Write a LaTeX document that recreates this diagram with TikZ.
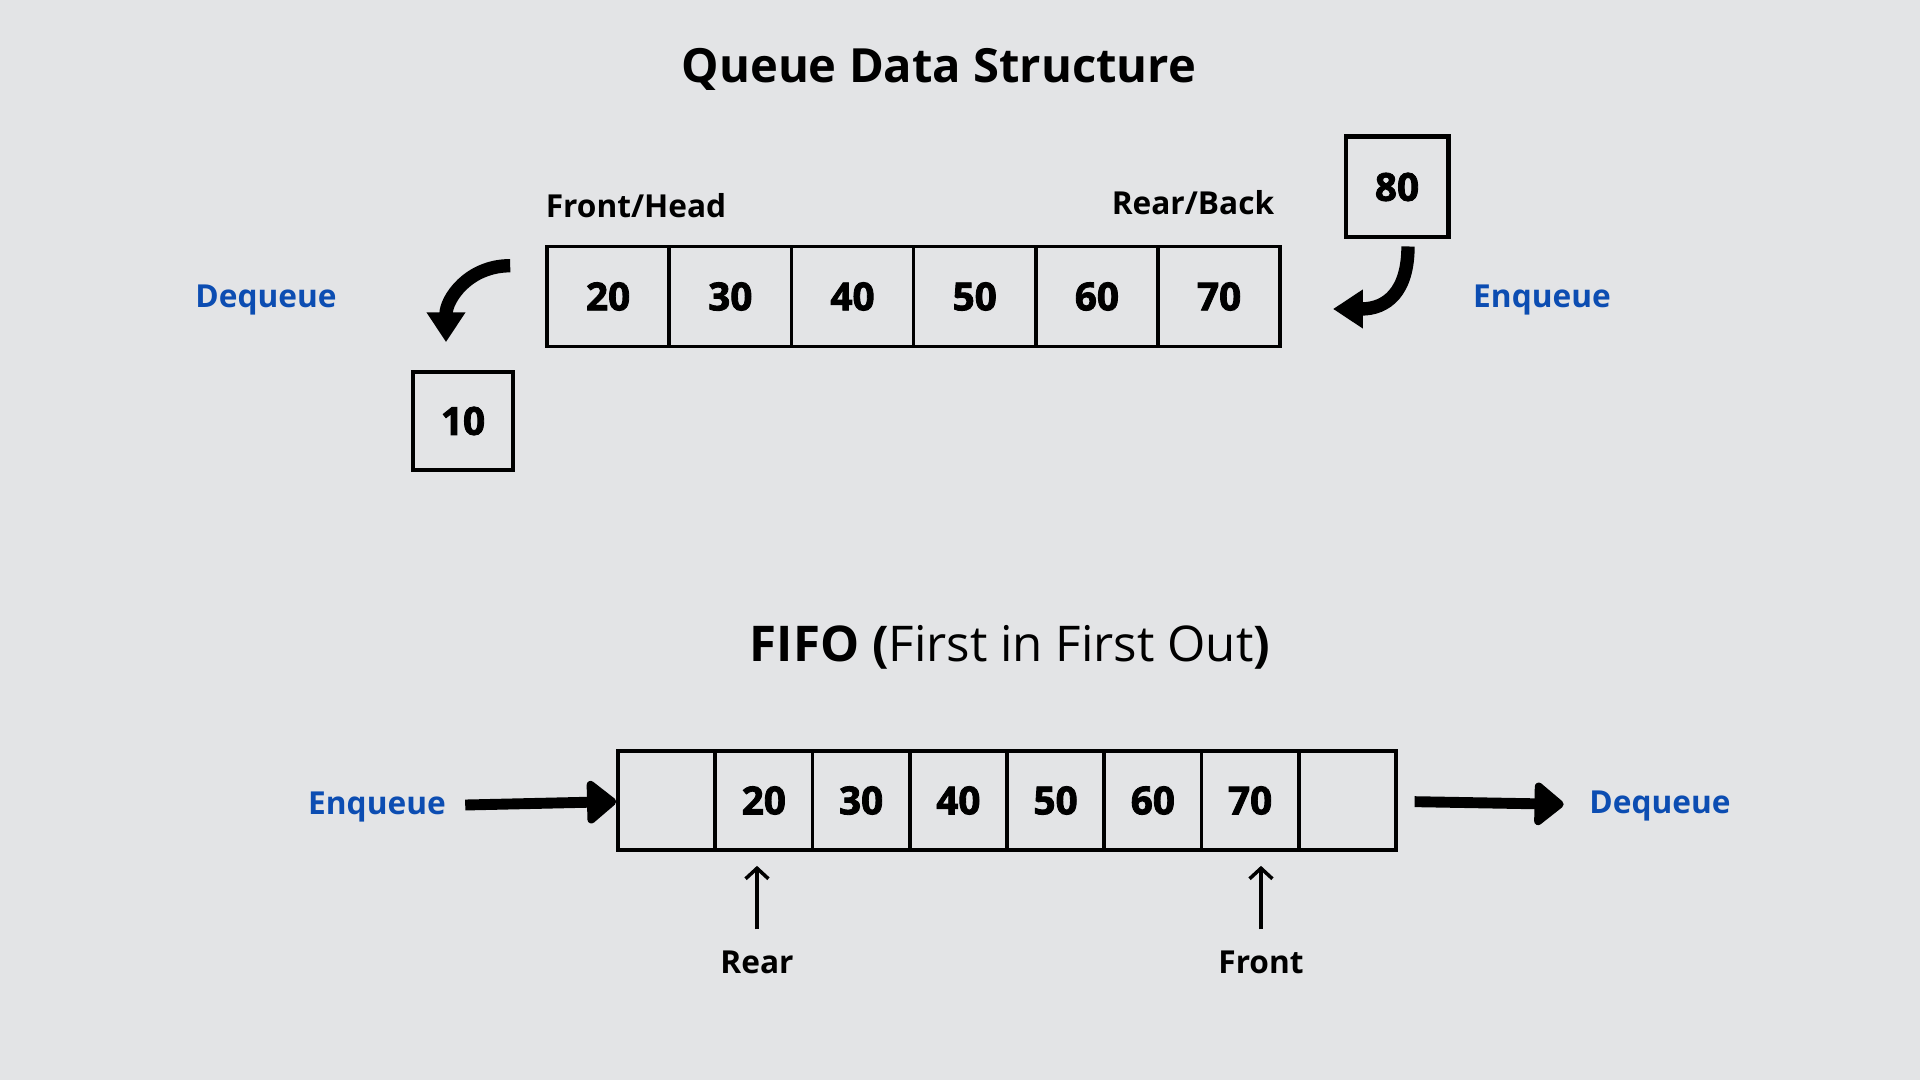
\documentclass[tikz,border=0pt]{standalone}
\usepackage{fontspec}
\setmainfont{Open Sans}
\newfontfamily\numfont{Open Sans}[BoldFeatures={FakeBold=2.2}]
\usetikzlibrary{arrows.meta}
\definecolor{bgrey}{RGB}{227,228,230}
\definecolor{qblue}{RGB}{12,77,178}
\begin{document}
\begin{tikzpicture}[x=0.01cm, y=-0.01cm,
  cell/.style={draw, line width=1pt, inner sep=0pt, font=\fontsize{11}{13}\selectfont\numfont\bfseries},
  lbl/.style={font=\fontsize{9}{11}\selectfont\bfseries},
  op/.style={lbl, text=qblue},
  bendarrow/.style={line width=3.8pt, -{Triangle[width=10.5pt,length=8.5pt]}},
  flatarrow/.style={line width=3.1pt, -{Triangle[round,width=14pt,length=9pt]}},
  ptrarrow/.style={line width=1pt, -{Straight Barb[length=3pt,width=6.5pt]}}]
\fill[bgrey] (0,0) rectangle (1920,1080);
\useasboundingbox (0,0) rectangle (1920,1080);
\node[font=\fontsize{13.4}{15}\selectfont\bfseries] (title) at (939,69) {Queue Data Structure};
% queue on top
\foreach \v [count=\i] in {20,30,40,50,60,70}
  \node[cell, minimum width=1.222cm, minimum height=1cm] (t\i) at ({608.1+122.2*(\i-1)},296.5) {\v};
\node[lbl] (head) at (636,206) {Front/Head};
\node[lbl] (back) at (1193,203) {Rear/Back};
\node[cell, line width=1.4pt, minimum width=1.02cm, minimum height=1cm] (n80) at (1397,187) {80};
\node[cell, minimum width=1cm, minimum height=0.98cm] (n10) at (463,421) {10};
\node[op] (deqt) at (266,300) {Dequeue};
\node[op] (enqt) at (1542,300) {Enqueue};
\draw[bendarrow] ([shift={(-35,21)}]t1.north west) .. controls +(-42,0) and +(0,-43) .. ([shift={(-17,-28)}]n10.north);
\draw[bendarrow] ([shift={(11,7)}]n80.south) .. controls +(0,45) and +(54,0) .. ([shift={(51,12.5)}]t6.east);
% fifo
\node[font=\fontsize{14}{16}\selectfont] (fifo) at (1010,647) {\textbf{FIFO (}First in First Out\textbf{)}};
\foreach \v [count=\i] in {{},20,30,40,50,60,70,{}}
  \node[cell, minimum width=0.9725cm, minimum height=0.99cm] (b\i) at ({666.6+97.25*(\i-1)},800.5) {\v};
\node[op] (enqb) at (377,807) {Enqueue};
\node[op] (deqb) at (1660,806) {Dequeue};
\draw[flatarrow, shorten <=2pt] (enqb) -- (b1);
\draw[flatarrow, shorten <=4.8pt, shorten >=3.8pt] (b8) -- (deqb);
\node[lbl] (rear) at (757,962) {Rear};
\node[lbl] (front) at (1261,962) {Front};
\draw[ptrarrow, shorten <=2.5pt, shorten >=4pt] (rear) -- (rear |- b2.south);
\draw[ptrarrow, shorten <=2.5pt, shorten >=4pt] (front) -- (front |- b7.south);
\end{tikzpicture}
\end{document}
